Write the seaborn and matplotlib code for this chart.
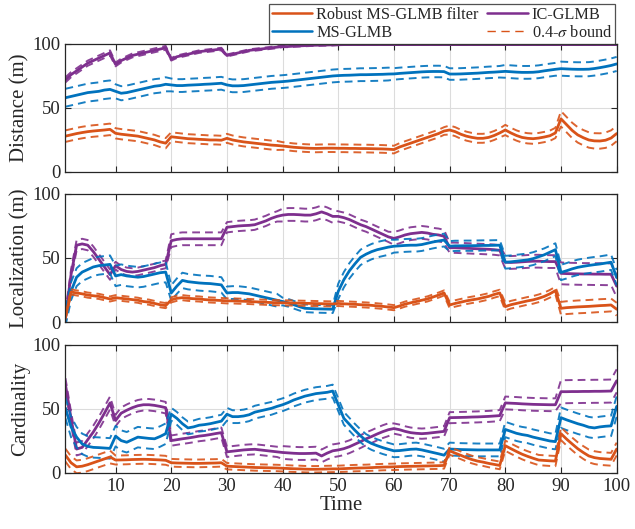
import numpy as np
import pandas as pd
import matplotlib
matplotlib.use("Agg")
import matplotlib.pyplot as plt
import seaborn as sns
from matplotlib.lines import Line2D

# time axis
time = np.arange(1, 101)

# segment lengths for the bound widths (changes at t = 10, 20, ..., 90)
seg_len = [9, 10, 10, 10, 10, 10, 10, 10, 10, 11]

# ---------------- Distance (m) ----------------
dist_rb = [28, 29, 30, 30.8, 31.5, 32, 32.4, 32.8, 33.3, 30.2,
           29.5, 29, 28.5, 28, 27, 26, 25, 23.5, 22.5, 27.5,
           27, 26.5, 26, 25.8, 25.5, 25.3, 25, 25, 24.8, 26.3,
           25, 24.2, 23.5, 23, 22.5, 22, 21.5, 21, 20.7, 20.3,
           19.8, 19.3, 19, 18.7, 18.5, 18.4, 18.5, 18.6, 18.6, 18.5,
           18.5, 18.4, 18.4, 18.3, 18.3, 18.2, 18.1, 18, 17.8, 17.5,
           19.5, 21, 22.5, 24, 25.5, 27, 28.5, 30, 32, 32.8,
           31.5, 29.5, 28, 27, 26.3, 26.3, 27, 28.5, 30.5, 32.8,
           30.5, 28.5, 27, 26.3, 26, 26.5, 27.3, 28.3, 30.5, 41.5,
           37, 32.5, 29, 26.8, 25, 24.3, 24.2, 24.8, 26.5, 30]
dist_ms = [58, 59, 60, 61, 62, 62.5, 63, 64, 64.5, 63,
           61.5, 62, 63, 64, 65, 66, 67, 67.5, 68.5, 68,
           67.5, 67.5, 67.8, 68, 68.2, 68.5, 68.7, 69, 69.3, 68,
           67.3, 67.3, 67.5, 68, 68.5, 69, 69.5, 70, 70.3, 70.6,
           71, 71.5, 72, 72.5, 73, 73.5, 74, 74.5, 75, 75.3,
           75.5, 75.6, 75.8, 76, 76, 76.1, 76.2, 76.3, 76.5, 76.6,
           77, 77.3, 77.6, 77.9, 78.2, 78.4, 78.5, 78.5, 78.4, 76.5,
           76.5, 76.6, 76.8, 77, 77.2, 77.5, 77.8, 78, 78.3, 78.6,
           78.3, 78, 77.8, 77.8, 77.9, 78.3, 79, 79.6, 80.2, 80.7,
           80.5, 80.3, 80.2, 80.2, 80.3, 80.8, 81.5, 82.3, 83.2, 84.4]
dist_ic = [72, 76, 79, 82, 85, 87, 89, 91, 93, 84,
           87, 89, 91, 92, 93, 94, 95, 96, 97, 88,
           90, 91, 92, 93, 94, 94.5, 95, 95.5, 96, 91,
           92, 93, 94, 95, 95.5, 96, 96.5, 97, 97.5, 98,
           98, 98.3, 98.5, 98.7, 98.9, 99, 99.1, 99.2, 99.3, 99.4,
           99.5, 99.5, 99.5, 99.5, 99.5, 99.5, 99.5, 99.5, 99.5, 99.5,
           99.5, 99.5, 99.5, 99.5, 99.5, 99.5, 99.5, 99.5, 99.5, 99.5,
           99.5, 99.5, 99.5, 99.5, 99.5, 99.5, 99.5, 99.5, 99.5, 99.5,
           99.5, 99.5, 99.5, 99.5, 99.5, 99.5, 99.5, 99.5, 99.5, 99.5,
           99.5, 99.5, 99.5, 99.5, 99.5, 99.5, 99.5, 99.5, 99.5, 99.5]
dist_rb_bw = [4.5, 4, 3.5, 3.5, 3, 3, 3, 3.5, 4, 6]
dist_ms_bw = [7, 5.5, 5, 5, 5, 5, 4.5, 4.5, 5, 5.5]
dist_ic_bw = [2, 1.5, 1, 0.8, 0.5, 0.3, 0.3, 0.3, 0.3, 0.3]

# ---------------- Localization (m) ----------------
loc_rb = [4, 23.5, 22.7, 22, 21, 20.5, 20, 19, 18, 19,
          18.5, 18, 17.5, 17, 16, 15.5, 14.5, 13.5, 12.8, 17.3,
          18.5, 19, 18.5, 18.2, 18, 17.5, 17.2, 17, 16.8, 16.5,
          16.5, 16.3, 16.2, 16, 15.8, 15.6, 15.4, 15.2, 15.1, 15,
          14.9, 14.8, 14.7, 14.6, 14.5, 14.4, 14.3, 14.2, 14.1, 14.5,
          14.2, 14, 13.8, 13.5, 13.3, 13, 12.6, 12.2, 11.7, 11.2,
          12.5, 14, 15, 16, 17, 18, 19.5, 21, 22.7, 13.3,
          14.5, 15.5, 16.5, 17.3, 18, 19, 20, 21.5, 22.7, 12,
          13.5, 14.5, 15.5, 16.5, 17.3, 18.5, 20, 22, 24.5, 10.7,
          11.2, 11.5, 11.8, 12, 12.2, 12.5, 12.8, 13, 13.3, 10]
loc_ms = [4, 24, 35, 39, 41, 43, 44, 44.5, 45, 36,
          37, 36, 35.5, 35, 35.5, 36.5, 37.5, 38.5, 39, 22.7,
          28, 32.5, 31.5, 31, 30.5, 30.2, 30, 29.5, 29, 22.7,
          23, 23, 22.5, 22, 21, 20, 19, 18, 17, 16,
          15, 13.5, 12, 10.7, 10.5, 10.3, 10.2, 10.1, 10, 24,
          33, 40, 45.5, 50.5, 53, 55, 56.5, 57.5, 58.5, 59.2,
          59.5, 59.8, 60, 60, 60.5, 61.5, 62.5, 63.3, 64, 59.2,
          59.5, 59.5, 59.6, 59.6, 59.7, 59.8, 59.8, 59.9, 60, 46.7,
          47, 47.5, 48, 48.5, 49.5, 51, 52.5, 54.5, 56.5, 38.7,
          40, 41.5, 42.7, 43.5, 44.2, 44.8, 45.3, 46, 46.7, 34.7]
loc_ic = [4, 37, 60, 61, 60, 55, 49, 43, 37, 44,
          41, 39.5, 39, 39.5, 40.5, 41.5, 42.5, 44, 45, 63.5,
          64.5, 65, 65, 65, 65, 65, 65, 65, 65, 74,
          74.5, 75, 75.3, 75.5, 76, 77.5, 79, 81, 82.5, 83.5,
          84, 84, 83.8, 83.5, 83.5, 84.5, 86, 84.5, 82.5, 82.5,
          81.5, 80, 78, 76, 74.5, 72.5, 70.5, 68.5, 66.5, 65.3,
          66.5, 68, 69, 69.5, 70, 69.5, 68.5, 68, 67, 58,
          58, 57.8, 57.6, 57.4, 57.2, 57, 56.8, 56.5, 56, 46.7,
          46.5, 46.7, 47, 47.3, 47.5, 47.5, 47.3, 47.2, 47.2, 38,
          37.8, 37.7, 37.6, 37.5, 37.5, 37.4, 37.4, 37.3, 37.3, 28]
loc_rb_bw = [2, 2, 2, 2, 2, 2, 2, 2.5, 3, 5]
loc_ms_bw = [7, 8, 6, 5, 3, 6, 5, 4, 5, 6]
loc_ic_bw = [4, 3, 5, 4, 5, 4, 5, 4, 5, 8.5]

# ---------------- Cardinality ----------------
card_rb = [13.9, 8, 4.8, 5.3, 6.5, 8, 9.5, 11, 12.5, 10.1,
           10.2, 10.3, 10.5, 10.6, 10.7, 10.6, 10.4, 10.2, 9.9, 8,
           7.8, 7.7, 7.6, 7.5, 7.5, 7.6, 7.7, 7.8, 8, 5.3,
           5.1, 4.9, 4.7, 4.5, 4.3, 4.2, 4.1, 4, 3.9, 3.7,
           3.5, 3.3, 3.2, 3, 2.9, 2.9, 3, 3.1, 3.2, 3.2,
           3.4, 3.6, 3.8, 3.9, 4, 4.2, 4.4, 4.6, 4.7, 4.8,
           5, 5.1, 5.2, 5.3, 5.4, 5.5, 5.6, 5.7, 5.9, 17.3,
           15.5, 13.8, 12, 10.5, 9.3, 8.5, 7.5, 6.7, 5.9, 21.3,
           19, 16.8, 14.7, 13, 11.5, 10.1, 9.8, 9.5, 9.3, 30.7,
           26.5, 22.7, 19, 16, 13.3, 12, 11.3, 11, 10.7, 18.7]
card_ms = [50.7, 36, 28, 22.7, 20.8, 20, 19.8, 19.5, 19.2, 28.8,
           25.3, 24, 26, 28, 27.5, 27, 26.7, 28.5, 30.7, 45.9,
           42.7, 38.5, 35.2, 36, 37.3, 37.8, 38.5, 39.5, 40.5, 45.9,
           44, 44, 44.5, 45.5, 47.5, 48.5, 49.5, 50.5, 52, 53.3,
           55, 57, 58.5, 60, 61, 62, 62.5, 63, 64, 53.3,
           42.7, 38, 33.3, 29, 25.3, 23, 21.3, 19.8, 18.5, 17.3,
           17.5, 18, 18.5, 18.7, 18, 17, 16, 15, 13.9, 18.7,
           18.5, 18.3, 18.2, 18.1, 18, 18, 18, 18, 18, 34,
           32.5, 31, 30, 29.3, 28, 27, 26, 25, 24.5, 43.2,
           41.5, 40, 38.5, 37.3, 35.8, 35.2, 36, 36.5, 36.8, 52]
card_ic = [69, 42.7, 18.7, 20, 26, 32, 39, 46.7, 54.7, 41,
           46.7, 49, 51, 52.5, 53.3, 53.3, 52.8, 52, 51, 25.3,
           26, 26.7, 27.3, 28, 28.8, 29.3, 30, 30.8, 31.5, 16.5,
           17, 17.5, 18, 18.3, 18.5, 18, 17.5, 17, 16.5, 16,
           15.7, 15.4, 15.2, 15.2, 15.3, 15.5, 13.3, 15.5, 17.3, 18,
           19, 20.5, 22.5, 24.5, 26.7, 28.5, 30.5, 32.3, 33.8, 34.7,
           33.8, 32.5, 31.5, 31, 30.7, 31, 31.5, 32, 32.5, 43.2,
           43.3, 43.4, 43.5, 43.7, 43.8, 44, 44.2, 44.5, 44.8, 54.7,
           54.5, 54.3, 54, 53.8, 53.6, 53.5, 53.4, 53.3, 53.3, 63.5,
           63.5, 63.6, 63.6, 63.7, 63.7, 63.8, 63.8, 63.9, 64, 72]
card_rb_bw = [5, 3.5, 3, 2.5, 2.5, 2.5, 2.5, 3, 4, 5]
card_ms_bw = [8, 8, 5, 5, 5, 5, 5, 5, 6, 8]
card_ic_bw = [5, 4.5, 4, 4, 5, 5, 4, 4.3, 5, 9]

colors = {"Robust MS-GLMB filter": "#D95319",
          "MS-GLMB": "#0072BD",
          "IC-GLMB": "#7E2F8E"}

panels = [
    ("Distance (m)", {"Robust MS-GLMB filter": (dist_rb, dist_rb_bw),
                      "MS-GLMB": (dist_ms, dist_ms_bw),
                      "IC-GLMB": (dist_ic, dist_ic_bw)}),
    ("Localization (m)", {"Robust MS-GLMB filter": (loc_rb, loc_rb_bw),
                          "MS-GLMB": (loc_ms, loc_ms_bw),
                          "IC-GLMB": (loc_ic, loc_ic_bw)}),
    ("Cardinality", {"Robust MS-GLMB filter": (card_rb, card_rb_bw),
                     "MS-GLMB": (card_ms, card_ms_bw),
                     "IC-GLMB": (card_ic, card_ic_bw)}),
]

sns.set_style("ticks", {"axes.grid": True, "grid.color": "#dcdcdc",
                        "xtick.direction": "in", "ytick.direction": "in"})
plt.rcParams["font.family"] = ["Liberation Serif", "DejaVu Serif"]
plt.rcParams["mathtext.fontset"] = "stix"

dash = (0, (4, 2.6))

fig = plt.figure(figsize=(6.35, 5.29), dpi=100)
left, width = 0.1031, 0.868
bottoms = [0.6749, 0.3913, 0.1059]
height = 0.242

for i, (ylabel, series) in enumerate(panels):
    ax = fig.add_axes([left, bottoms[i], width, height])
    for m in ["IC-GLMB", "MS-GLMB", "Robust MS-GLMB filter"]:
        mean, bw = series[m]
        mean = np.asarray(mean, dtype=float)
        half = np.repeat(bw, seg_len)
        df = pd.DataFrame({"Time": time, "mean": mean,
                           "upper": mean + half, "lower": mean - half})
        c = colors[m]
        sns.lineplot(data=df, x="Time", y="upper", ax=ax, color=c, lw=1.4,
                     linestyle=dash, alpha=0.9)
        sns.lineplot(data=df, x="Time", y="lower", ax=ax, color=c, lw=1.4,
                     linestyle=dash, alpha=0.9)
        sns.lineplot(data=df, x="Time", y="mean", ax=ax, color=c, lw=2.0)
    ax.set_xlim(1, 100)
    ax.set_ylim(0, 100)
    ax.set_yticks([0, 50, 100])
    ax.set_xticks(np.arange(10, 101, 10))
    ax.set_ylabel(ylabel, fontsize=15, labelpad=2)
    ax.tick_params(labelsize=13.5, length=4, width=0.8, top=True, right=True,
                   color="#262626")
    ax.grid(True, color="#dcdcdc", lw=0.8)
    for s in ax.spines.values():
        s.set_linewidth(0.9)
        s.set_color("#262626")
    if i < 2:
        ax.set_xticklabels([])
        ax.set_xlabel("")
    else:
        ax.set_xlabel("Time", fontsize=15, labelpad=1)

handles = [Line2D([], [], color=colors["Robust MS-GLMB filter"], lw=1.8),
           Line2D([], [], color=colors["MS-GLMB"], lw=1.8),
           Line2D([], [], color=colors["IC-GLMB"], lw=1.8),
           Line2D([], [], color=colors["Robust MS-GLMB filter"], lw=1.0,
                  linestyle=(0, (6, 4)))]
labels = ["Robust MS-GLMB filter", "MS-GLMB", "IC-GLMB", r"0.4-$\sigma$ bound"]
leg = fig.legend(handles, labels, ncol=2, loc="upper right",
                 bbox_to_anchor=(0.969, 0.993), fontsize=11.7,
                 frameon=True, fancybox=False, edgecolor="#262626",
                 handlelength=2.5, handletextpad=0.25, columnspacing=0.5,
                 labelspacing=0.12, borderpad=0.2, borderaxespad=0.0)
leg.get_frame().set_linewidth(0.9)

fig.savefig("out.png", dpi=100)
